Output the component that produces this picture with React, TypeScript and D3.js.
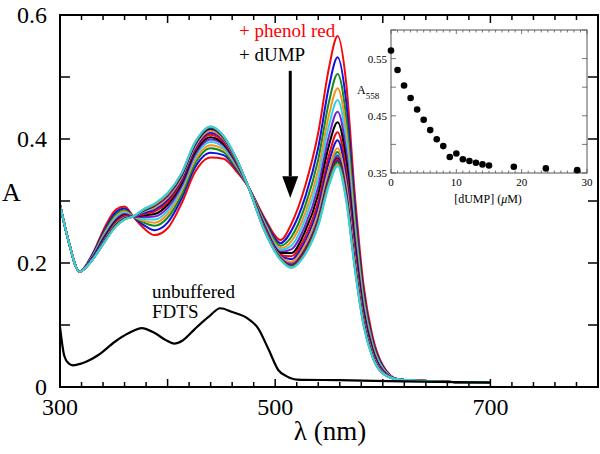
import React from 'react';
import * as d3 from 'd3';

// wavelength grid (nm) used for the titration spectra
const wavelengths = [300, 308, 318, 330, 342, 352, 360, 368, 378, 388, 400, 413, 425, 440, 452, 463, 475, 490, 505, 515, 528, 540, 550, 558, 566, 574, 582, 590, 600, 615, 650, 700];

// FDTS + phenol red spectra, one per dUMP addition
const spec01 = [.294, .235, .186, .214, .259, .286, .291, .275, .256, .245, .256, .296, .345, .370, .368, .350, .323, .273, .237, .263, .325, .410, .515, .566, .490, .310, .166, .085, .035, .012, .009, .007];
const spec02 = [.294, .235, .186, .213, .255, .282, .288, .275, .261, .253, .265, .304, .353, .378, .374, .354, .323, .270, .232, .252, .307, .386, .485, .532, .460, .291, .155, .079, .033, .012, .009, .007];
const spec03 = [.294, .235, .186, .211, .252, .278, .285, .275, .265, .260, .273, .310, .359, .385, .379, .356, .323, .267, .228, .242, .293, .367, .460, .505, .435, .275, .147, .075, .031, .012, .009, .007];
const spec04 = [.294, .235, .186, .210, .249, .275, .283, .275, .268, .265, .279, .316, .364, .390, .383, .359, .323, .265, .224, .235, .281, .350, .439, .482, .414, .262, .140, .071, .030, .012, .009, .007];
const spec05 = [.294, .235, .186, .210, .247, .273, .281, .275, .271, .270, .284, .320, .369, .395, .386, .361, .323, .263, .221, .228, .271, .337, .422, .463, .397, .251, .134, .068, .029, .012, .009, .007];
const spec06 = [.294, .235, .186, .209, .245, .270, .279, .275, .274, .275, .289, .324, .373, .399, .390, .363, .323, .261, .218, .222, .261, .323, .405, .444, .380, .240, .128, .065, .027, .012, .009, .007];
const spec07 = [.294, .235, .186, .208, .243, .268, .277, .275, .277, .279, .294, .328, .377, .403, .392, .365, .323, .259, .216, .216, .252, .311, .390, .427, .365, .231, .122, .062, .026, .012, .009, .007];
const spec08 = [.294, .235, .186, .207, .241, .266, .276, .275, .279, .283, .298, .332, .381, .407, .395, .366, .323, .258, .213, .211, .243, .299, .374, .411, .349, .221, .117, .059, .025, .012, .009, .007];
const spec09 = [.294, .235, .186, .207, .240, .264, .274, .275, .281, .286, .302, .335, .383, .410, .398, .368, .323, .256, .211, .206, .236, .290, .363, .398, .338, .214, .113, .057, .025, .012, .009, .007];
const spec10 = [.294, .235, .186, .206, .238, .262, .272, .275, .284, .290, .307, .340, .388, .415, .401, .370, .323, .254, .209, .200, .226, .277, .346, .379, .321, .203, .107, .054, .023, .012, .009, .007];
const spec11 = [.294, .235, .186, .206, .238, .263, .273, .275, .283, .289, .305, .338, .386, .413, .400, .369, .323, .255, .210, .202, .230, .281, .352, .385, .327, .207, .109, .055, .024, .012, .009, .007];
const spec12 = [.294, .235, .186, .206, .237, .261, .272, .275, .284, .291, .308, .341, .389, .416, .402, .370, .323, .254, .208, .198, .224, .274, .342, .375, .317, .201, .106, .053, .023, .012, .009, .007];
const spec13 = [.294, .235, .186, .206, .237, .261, .272, .275, .285, .292, .308, .341, .389, .416, .402, .370, .323, .254, .208, .198, .223, .272, .340, .373, .315, .200, .105, .053, .023, .012, .009, .007];
const spec14 = [.294, .235, .186, .206, .236, .261, .271, .275, .285, .293, .310, .342, .390, .417, .403, .371, .323, .253, .207, .196, .221, .269, .336, .369, .311, .197, .104, .052, .023, .012, .009, .007];
const spec15 = [.294, .235, .186, .205, .236, .260, .271, .275, .286, .293, .310, .343, .391, .418, .403, .371, .323, .253, .207, .196, .220, .268, .335, .367, .310, .196, .103, .052, .023, .012, .009, .007];
const spec16 = [.294, .235, .186, .205, .236, .260, .271, .275, .286, .294, .311, .343, .391, .418, .404, .371, .323, .253, .206, .195, .218, .266, .333, .364, .308, .195, .103, .051, .022, .012, .009, .007];
const spec17 = [.294, .235, .186, .205, .236, .260, .271, .275, .286, .294, .311, .344, .392, .419, .404, .371, .323, .253, .206, .194, .217, .265, .331, .362, .306, .194, .102, .051, .022, .012, .009, .007];
const spec18 = [.294, .235, .186, .205, .235, .259, .270, .275, .287, .295, .312, .345, .393, .420, .405, .372, .323, .252, .205, .193, .215, .262, .327, .358, .302, .191, .101, .050, .022, .012, .009, .007];
const spec19 = [.294, .235, .186, .205, .235, .259, .270, .275, .287, .296, .313, .345, .393, .420, .405, .372, .323, .252, .205, .192, .214, .260, .325, .356, .300, .190, .100, .050, .022, .012, .009, .007];

const spectra = [spec01, spec02, spec03, spec04, spec05, spec06, spec07, spec08, spec09, spec10,
  spec11, spec12, spec13, spec14, spec15, spec16, spec17, spec18, spec19];
const lineColors = ['#f20a0a', '#1010e0', '#138a1f', '#f7921e', '#2dd2ea', '#7a22d2', '#000000'];

// unbuffered FDTS
const fdtsWl = [300, 304, 308, 312, 320, 336, 351, 364, 376, 388, 398, 406, 414, 425, 438, 449, 460, 474, 484, 494, 503, 510, 520, 560, 620, 700];
const fdtsA = [.097, .050, .038, .035, .038, .052, .073, .087, .095, .087, .076, .070, .075, .093, .113, .127, .121, .111, .095, .060, .027, .018, .012, .011, .009, .007];

// inset: A558 vs [dUMP]
const dumpConc = [0, 1, 2, 3, 4, 5, 6, 7, 8, 9, 10, 11, 12, 13, 14, 15, 18.8, 23.7, 28.5];
const a558 = [.564, .530, .503, .481, .461, .443, .425, .409, .397, .378, .384, .374, .371, .368, .365, .363, .361, .358, .355];

const xTickLabels = [300, 500, 700];
const yTickLabels = [0, 0.2, 0.4, 0.6];
const insetXLabels = [0, 10, 20, 30];
const insetYLabels = [0.35, 0.45, 0.55];

const W = 600;
const H = 454;
const font = '"Liberation Serif", "Times New Roman", serif';

export default function App() {
  const m = { left: 60, right: 598, top: 15, bottom: 387 };
  const x = d3.scaleLinear().domain([300, 800]).range([m.left, m.right]);
  const y = d3.scaleLinear().domain([0, 0.6]).range([m.bottom, m.top]);

  const line = d3.line<[number, number]>()
    .x(d => x(d[0]))
    .y(d => y(d[1]))
    .curve(d3.curveMonotoneX);

  const ins = { left: 391, right: 587, top: 30, bottom: 173 };
  const ix = d3.scaleLinear().domain([0, 30]).range([ins.left, ins.right]);
  const iy = d3.scaleLinear().domain([0.35, 0.6]).range([ins.bottom, ins.top]);

  const xMinor = d3.range(300, 801, 20);
  const yMinor = d3.range(0, 0.61, 0.1);
  const ixMinor = d3.range(0, 31, 1);
  const iyMinor = d3.range(0.35, 0.601, 0.05);

  return (
    <svg width={W} height={H} style={{ position: 'absolute', left: 0, top: 0, background: '#fff' }} fontFamily={font}>
      {/* spectra */}
      {spectra.map((s, i) => (
        <path key={i} d={line(wavelengths.map((w, j) => [w, s[j]]) as [number, number][]) || ''}
          fill="none" stroke={lineColors[i % lineColors.length]} strokeWidth={2} />
      ))}
      <path d={line(fdtsWl.map((w, j) => [w, fdtsA[j]]) as [number, number][]) || ''}
        fill="none" stroke="#000" strokeWidth={2.2} />

      {/* frame */}
      <rect x={m.left} y={m.top} width={m.right - m.left} height={m.bottom - m.top}
        fill="none" stroke="#000" strokeWidth={2} />
      {xMinor.map(v => {
        const len = v % 100 === 0 ? 8 : 5;
        return (
          <g key={'xt' + v}>
            <line x1={x(v)} x2={x(v)} y1={m.bottom} y2={m.bottom - len} stroke="#000" strokeWidth={1.5} />
            <line x1={x(v)} x2={x(v)} y1={m.top} y2={m.top + len} stroke="#000" strokeWidth={1.5} />
          </g>
        );
      })}
      {yMinor.map(v => (
        <g key={'yt' + v}>
          <line x1={m.left} x2={m.left + 10} y1={y(v)} y2={y(v)} stroke="#000" strokeWidth={1.5} />
          <line x1={m.right} x2={m.right - 10} y1={y(v)} y2={y(v)} stroke="#000" strokeWidth={1.5} />
        </g>
      ))}
      {xTickLabels.map(v => (
        <text key={'xl' + v} x={x(v)} y={415} fontSize={24} textAnchor="middle">{v}</text>
      ))}
      {yTickLabels.map(v => (
        <text key={'yl' + v} x={47} y={y(v) + 8} fontSize={24} textAnchor="end">{v}</text>
      ))}
      <text x={330} y={440} fontSize={27} textAnchor="middle">λ (nm)</text>
      <text x={2} y={201} fontSize={26}>A</text>

      {/* annotations */}
      <text x={239} y={37} fontSize={19} fill="#f00">+ phenol red</text>
      <text x={239} y={61} fontSize={19} fill="#000">+ dUMP</text>
      <line x1={x(514)} x2={x(514)} y1={y(0.51)} y2={y(0.34)} stroke="#000" strokeWidth={3} />
      <path d={`M${x(514) - 8},${y(0.34)} L${x(514) + 8},${y(0.34)} L${x(514)},${y(0.305)} Z`} fill="#000" />
      <text x={152} y={298} fontSize={19}>unbuffered</text>
      <text x={152} y={318} fontSize={19}>FDTS</text>

      {/* inset */}
      <rect x={ins.left} y={ins.top} width={ins.right - ins.left} height={ins.bottom - ins.top}
        fill="#fff" stroke="#555" strokeWidth={1} />
      {ixMinor.map(v => {
        const len = v % 10 === 0 ? 4 : 2.5;
        return (
          <g key={'ixt' + v}>
            <line x1={ix(v)} x2={ix(v)} y1={ins.bottom} y2={ins.bottom - len} stroke="#555" strokeWidth={0.8} />
            <line x1={ix(v)} x2={ix(v)} y1={ins.top} y2={ins.top + len} stroke="#555" strokeWidth={0.8} />
          </g>
        );
      })}
      {iyMinor.map(v => (
        <g key={'iyt' + v}>
          <line x1={ins.left} x2={ins.left + 5} y1={iy(v)} y2={iy(v)} stroke="#555" strokeWidth={0.8} />
          <line x1={ins.right} x2={ins.right - 5} y1={iy(v)} y2={iy(v)} stroke="#555" strokeWidth={0.8} />
        </g>
      ))}
      {insetXLabels.map(v => (
        <text key={'ixl' + v} x={ix(v)} y={186} fontSize={11} textAnchor="middle">{v}</text>
      ))}
      {insetYLabels.map(v => (
        <text key={'iyl' + v} x={387} y={iy(v) + 4} fontSize={11} textAnchor="end">{v.toFixed(2)}</text>
      ))}
      <text x={357} y={94} fontSize={12}>A<tspan fontSize={9} dy={5}>558</tspan></text>
      <text x={488} y={203} fontSize={12} textAnchor="middle">[dUMP] (<tspan fontStyle="italic">μ</tspan>M)</text>
      {dumpConc.map((c, i) => (
        <circle key={'pt' + i} cx={ix(c)} cy={iy(a558[i])} r={3.3} fill="#000" />
      ))}
    </svg>
  );
}
